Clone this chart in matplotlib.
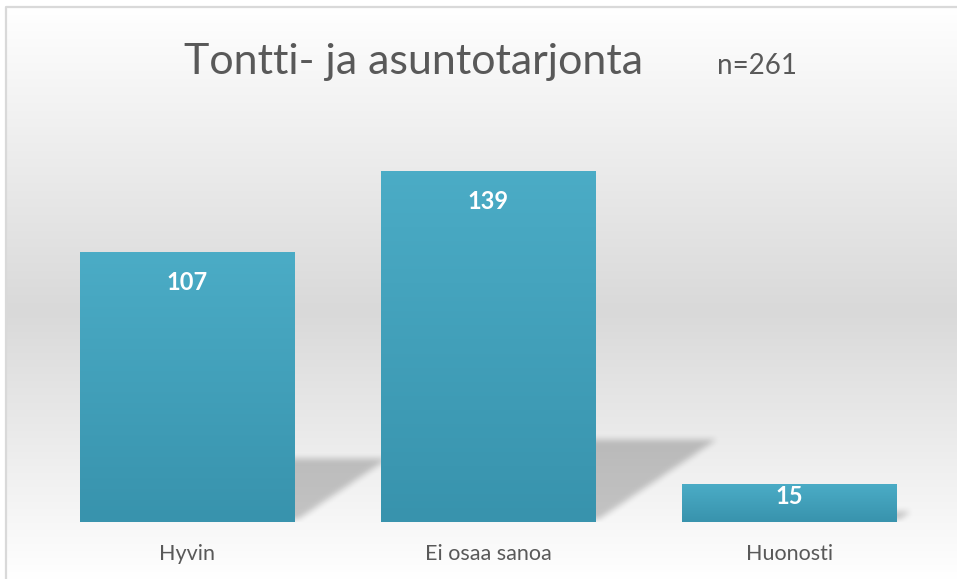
import numpy as np
import matplotlib
matplotlib.use("Agg")
import matplotlib.pyplot as plt
from matplotlib.path import Path

plt.rcParams['font.family'] = ['Lato', 'DejaVu Sans']

# survey answers
categories = ['Hyvin', 'Ei osaa sanoa', 'Huonosti']
counts = [107, 139, 15]
title = 'Tontti- ja asuntotarjonta'
n_label = 'n=261'

W, H = 957, 579
fig = plt.figure(figsize=(W / 100, H / 100), dpi=100)

# background: white -> light gray -> white, thin frame on top/left
bg = fig.add_axes([0, 0, 1, 1], zorder=-10)
bg.set_xlim(0, W)
bg.set_ylim(H, 0)
bg.axis('off')
lum = np.interp(np.arange(H), [0, 7, 310, H], [255, 255, 217, 255]) / 255
bg.imshow(np.stack([lum] * 3, axis=-1)[:, None, :], extent=(0, W, H, 0), aspect='auto')
bg.fill_between([0, W], 0, 6, color='white', lw=0)
bg.fill_betweenx([0, H], 0, 5, color='white', lw=0)
bg.plot([6, 6, W], [H, 6.5, 6.5], color='#d9d9d9', lw=1.6)

# main plot area
ax = fig.add_axes([37 / W, (H - 522) / H, 902.5 / W, 403 / H])
ax.patch.set_alpha(0)
for s in ax.spines.values():
    s.set_visible(False)
ymax = 160
xs = np.arange(len(counts))
bw = 0.714

# shadows falling to the right of each bar, blurred
nx, ny = 900, 403
gx = np.linspace(-0.5, 2.5, nx)
gy = np.linspace(0, ymax, ny)
GX, GY = np.meshgrid(gx, gy)
pts = np.column_stack([GX.ravel(), GY.ravel()])
mask = np.zeros(GX.size)
for x, v in zip(xs, counts):
    dx, dy = 0.00285 * v, 0.23 * v
    poly = Path([(x - bw / 2, 0), (x + bw / 2, 0), (x + bw / 2 + dx, dy),
                 (x - bw / 2 + dx, dy), (x - bw / 2, 0)])
    mask = np.maximum(mask, poly.contains_points(pts))
mask = mask.reshape(ny, nx)
k = np.ones(6) / 6
for _ in range(3):
    mask = np.apply_along_axis(lambda r: np.convolve(r, k, mode='same'), 1, mask)
    mask = np.apply_along_axis(lambda c: np.convolve(c, k, mode='same'), 0, mask)
shadow = np.zeros((ny, nx, 4))
shadow[..., 3] = mask * 0.21
ax.imshow(shadow, extent=(-0.5, 2.5, 0, ymax), origin='lower', aspect='auto', zorder=1)

# bars with vertical gradient
top_c = np.array([0x4b, 0xac, 0xc6]) / 255
bot_c = np.array([0x38, 0x93, 0xad]) / 255
t = np.linspace(0, 1, 100)[:, None]
grad = (top_c * (1 - t) + bot_c * t)[:, None, :]
for x, v in zip(xs, counts):
    ax.imshow(grad, extent=(x - bw / 2, x + bw / 2, 0, v), aspect='auto', zorder=2)
    ax.text(x, v - min(11.9, 0.32 * v), str(v), ha='center', va='center',
            color='white', fontsize=17, fontweight='bold', zorder=3)

ax.set_xlim(-0.5, 2.5)
ax.set_ylim(0, ymax)
ax.set_yticks([])
ax.set_xticks(xs, categories)
ax.tick_params(axis='x', length=0, pad=16, labelsize=15.5, labelcolor='#595959')

fig.text(414 / W, 1 - 74 / H, title, ha='center', va='baseline', fontsize=31, color='#595959')
fig.text(717 / W, 1 - 74 / H, n_label, ha='left', va='baseline', fontsize=20, color='#595959')

fig.savefig('out.png', dpi=100)
